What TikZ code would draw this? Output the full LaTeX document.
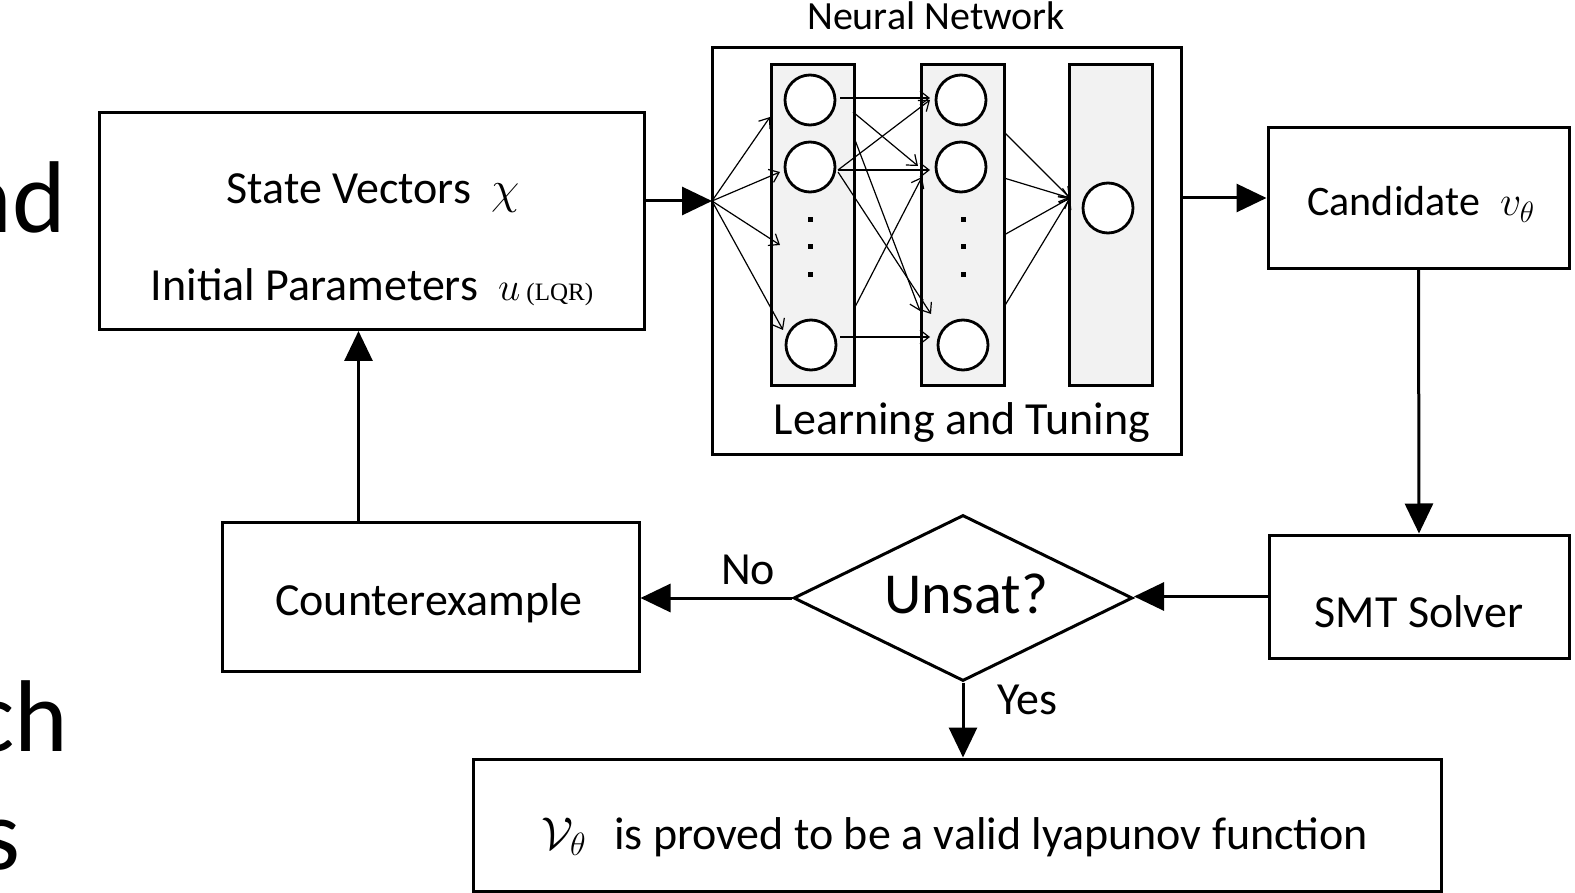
\RequirePackage{fix-cm}
\documentclass[tikz,border=0pt]{standalone}
\usepackage{fontspec}
\setmainfont{Carlito}
\newfontfamily\lqrfont{Liberation Serif}
\usetikzlibrary{arrows.meta,shapes.geometric}

\tikzset{
  box/.style={draw,line width=3pt,inner sep=0pt},
  layer/.style={draw,line width=3pt,fill=black!5,inner sep=0pt,minimum width=83pt,minimum height=321pt},
  neuron/.style={circle,draw,line width=2.8pt,fill=white,inner sep=0pt,minimum size=50pt},
  flow/.style={line width=3pt,-{Triangle[length=30pt,width=28pt]}},
  wire/.style={line width=1.2pt,-{Straight Barb[length=9pt,width=14pt]}},
  txt/.style={anchor=base,inner sep=0pt,font=\fontsize{46}{55}\selectfont},
  sidetxt/.style={anchor=base east,inner sep=0pt,font=\fontsize{102}{120}\selectfont}
}

\begin{document}
\begin{tikzpicture}[x=1pt,y=-1pt]

\useasboundingbox (0,0) rectangle (1575,893);

% words of the slide text running off the left edge
\node[sidetxt] (w1) at (66,233) {nd};
\node[sidetxt] (w2) at (68,751) {ch};
\node[sidetxt] (w3) at (21,869) {s};

% input box
\node[box,minimum width=545pt,minimum height=217pt] (state) at (371.5,221) {};
\node[txt] (st1) at (373,204) {State Vectors\hspace{20pt}$\chi$};
\node[txt] (st2) at (372,301) {Initial Parameters\hspace{20pt}{\fontsize{40}{48}\selectfont$u$}\hspace{6pt}{\lqrfont\fontsize{25}{30}\selectfont(LQR)}};

% network
\node[box,minimum width=469pt,minimum height=406pt] (nn) at (946.5,251) {};
\node[txt,font=\fontsize{40}{48}\selectfont] (nnlbl) at (936,30) {Neural Network};
\node[txt] (learn) at (962,434) {Learning and Tuning};

\node[layer] (l1) at (812.5,225.5) {};
\node[layer] (l2) at (963,225.5) {};
\node[layer] (l3) at (1111,225.5) {};

\foreach \x in {810,963}
  \foreach \y in {220,247,275}
    \fill (\x-2.5,\y-2.5) rectangle ++(5,5);

\coordinate (fan) at (712,201);
\coordinate (c1in) at (1070,198);

\foreach \p in {(770,117),(780,172),(780,245),(783,330)}
  \draw[wire] (fan) -- \p;

\foreach \s/\t in {{840,98}/{930,98},{853,112}/{918,166},{855,140}/{920,311},
                   {838,170}/{930,100},{838,170}/{930,170},{838,172}/{931,314},
                   {855,307}/{922,177},{840,337}/{930,337}}
  \draw[wire] (\s) -- (\t);

\foreach \y in {132,178,235,307}
  \draw[wire] (1004,\y) -- (c1in);

\node[neuron] (a1) at (810,100) {};
\node[neuron] (a2) at (810,167) {};
\node[neuron] (a3) at (811,345) {};
\node[neuron] (b1) at (961,100) {};
\node[neuron] (b2) at (961,167) {};
\node[neuron] (b3) at (963,345) {};
\node[neuron] (c1) at (1108,208) {};

\draw[flow] (state.east |- fan) -- (fan);

% candidate and solver
\node[box,minimum width=301pt,minimum height=141pt] (cand) at (1418.5,198) {};
\node[txt,font=\fontsize{42}{50}\selectfont] (candlbl) at (1421,216) {Candidate\hspace{20pt}$v_\theta$};
\draw[flow] (nn.east |- cand.west) -- (cand.west);

\node[box,minimum width=300pt,minimum height=123pt] (smt) at (1419,596.5) {};
\node[txt] (smtlbl) at (1419,627) {SMT Solver};
\draw[flow] (cand.south) -- (smt.north);

% decision
\node[draw,diamond,line width=3pt,aspect=2,inner sep=0pt,minimum width=339pt,minimum height=166pt] (dec) at (963,598) {};
\node[txt,font=\fontsize{58}{70}\selectfont] (declbl) at (966,613) {Unsat?};
\draw[flow] (smt.west) -- (smt.west -| dec.east);

\node[box,minimum width=417pt,minimum height=149pt] (ce) at (430.5,596.5) {};
\node[txt] (celbl) at (429,615) {Counterexample};
\draw[flow] (dec.west) -- (dec.west -| ce.east);
\node[txt] (no) at (748,584) {No};

\coordinate (back) at (358.5,0);
\draw[flow] (ce.north -| back) -- (state.south -| back);

% result
\node[box,minimum width=968pt,minimum height=132pt] (fin) at (957,825) {};
\node[txt] (finlbl) at (955,849) {$\mathcal{V}_\theta$\hspace{28pt}is proved to be a valid lyapunov function};
\draw[flow] (dec.south) -- (dec.south |- fin.north);
\node[txt] (yes) at (1027,714) {Yes};

\end{tikzpicture}
\end{document}
